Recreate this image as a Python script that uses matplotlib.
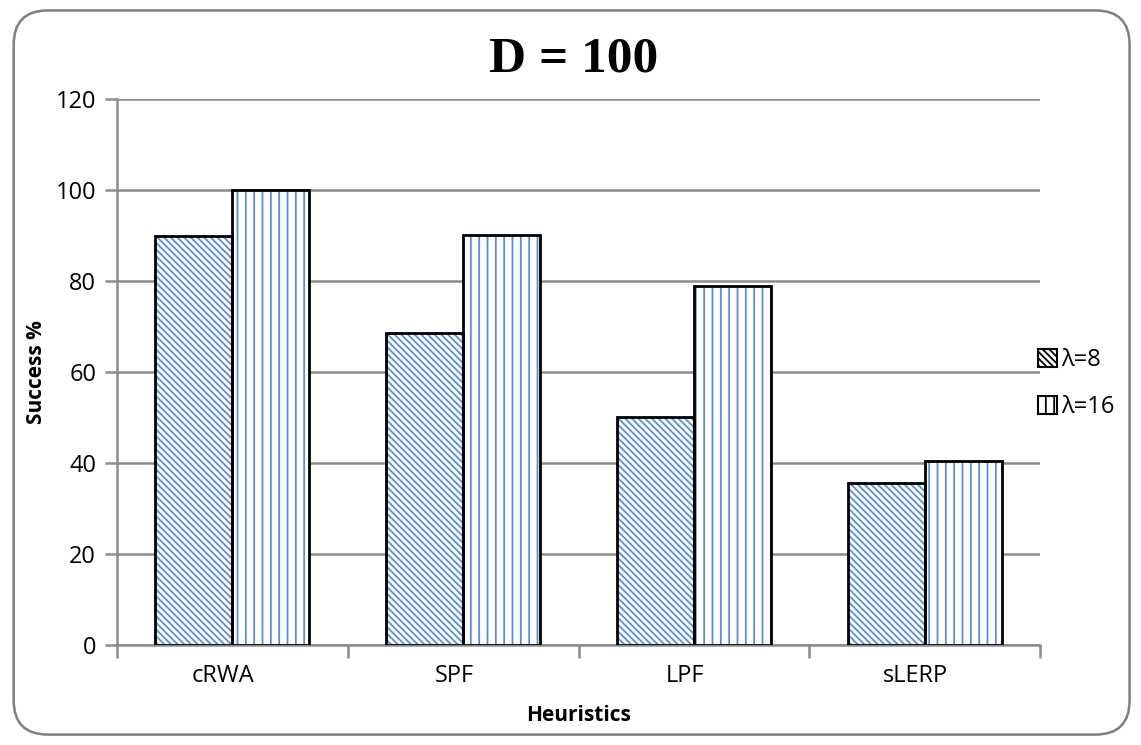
import matplotlib.pyplot as plt
from matplotlib.patches import FancyBboxPatch, Patch
from matplotlib.transforms import ScaledTranslation
import numpy as np

plt.rcParams['font.family'] = ['Open Sans', 'DejaVu Sans']
plt.rcParams['hatch.linewidth'] = 1.3

heuristics = ['cRWA', 'SPF', 'LPF', 'sLERP']
series_names = ['λ=8', 'λ=16']
lam8 = [90, 68.5, 50.2, 35.5]
lam16 = [100, 90.2, 79, 40.4]
yticks = [0, 20, 40, 60, 80, 100, 120]

blue = '#5B8ED0'
grid_gray = '#8C8C8C'
diag = '\\' * 5
vert = '||'

fig = plt.figure(figsize=(11.41, 7.45), dpi=100)
ax = fig.add_axes([117 / 1141, 1 - 645 / 745, 923 / 1141, 546 / 745])

# rounded frame around the whole chart
frame = FancyBboxPatch((0.012, 0.014), 0.978, 0.972,
                       boxstyle='round,pad=0,rounding_size=0.03',
                       transform=fig.transFigure, facecolor='none',
                       edgecolor='#7F7F7F', linewidth=1.8,
                       mutation_aspect=1141 / 745)
fig.patches.append(frame)

x = np.arange(len(heuristics))
w = 1 / 3
for vals, off, hatch in [(lam8, -w / 2, diag), (lam16, w / 2, vert)]:
    ax.bar(x + off, vals, w, color='white', edgecolor=blue, hatch=hatch,
           linewidth=0, zorder=3)
    ax.bar(x + off, vals, w, color='none', edgecolor='black',
           linewidth=2, zorder=4)

ax.set_xlim(-0.5, len(heuristics) - 0.5)
ax.set_ylim(0, 120)
ax.set_yticks(yticks)
ax.set_xticks(x)
ax.set_xticklabels(heuristics)
ax.set_xticks(np.arange(len(heuristics) + 1) - 0.5, minor=True)
ax.tick_params(axis='x', which='major', length=0, pad=14, labelsize=17)
ax.tick_params(axis='x', which='minor', length=9, width=1.8, color=grid_gray)
ax.tick_params(axis='y', length=9, width=1.8, color=grid_gray, pad=6,
               labelsize=17)
shift = ScaledTranslation(-9 / 100, 0, fig.dpi_scale_trans)
for lab in ax.get_xticklabels():
    lab.set_transform(lab.get_transform() + shift)
ax.yaxis.grid(True, color=grid_gray, linewidth=1.8, zorder=0)
ax.set_axisbelow(True)
for s in ['top', 'right']:
    ax.spines[s].set_visible(False)
for s in ['left', 'bottom']:
    ax.spines[s].set_color(grid_gray)
    ax.spines[s].set_linewidth(1.8)

ax.set_ylabel('Success %', fontsize=15, fontweight='bold', labelpad=6)
ax.set_xlabel('Heuristics', fontsize=15, fontweight='bold', labelpad=12)
fig.text(0.503, 0.92, 'D = 100', ha='center', va='center',
         family='Liberation Serif', fontweight='bold', fontsize=37)

handles = [Patch(facecolor='white', edgecolor='black', hatch=diag, linewidth=1.5),
           Patch(facecolor='white', edgecolor='black', hatch=vert, linewidth=1.5)]
leg = fig.legend(handles, series_names, loc='center left',
                 bbox_to_anchor=(0.891, 0.485), frameon=False, fontsize=17,
                 handlelength=0.8, handleheight=0.8, handletextpad=0.2,
                 labelspacing=1.0)

fig.savefig('out.png', dpi=100)
